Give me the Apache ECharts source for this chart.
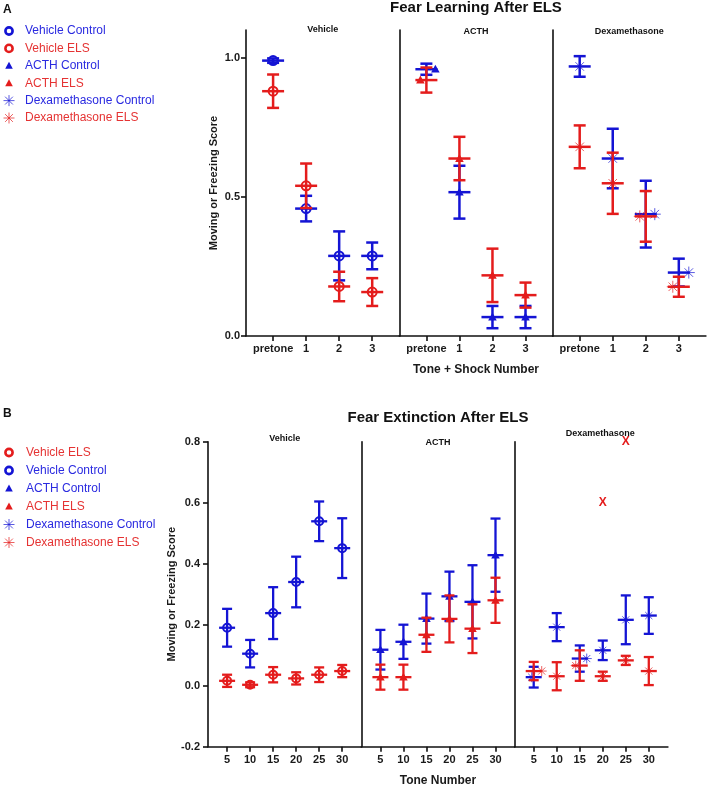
<!DOCTYPE html>
<html><head><meta charset="utf-8">
<script src="https://cdn.jsdelivr.net/npm/echarts@6/dist/echarts.min.js"></script>
<style>html,body{margin:0;padding:0;background:#fff}#c{width:708px;height:786px}</style>
</head><body><div id="c"></div>
<script>
// ---------------- DATA ----------------
const learningCategories = ['pretone', '1', '2', '3'];
const extinctionCategories = ['5', '10', '15', '20', '25', '30'];
const learningTicks = [0, 0.5, 1.0];
const extinctionTicks = [-0.2, 0, 0.2, 0.4, 0.6, 0.8];
const panelNames = ['Vehicle', 'ACTH', 'Dexamethasone'];

// Panel A: Fear Learning (mean, SEM)
const learnVehicleControlMean = [0.990, 0.458, 0.288, 0.288];
const learnVehicleControlErr  = [0.008, 0.046, 0.088, 0.048];
const learnVehicleELSMean     = [0.880, 0.540, 0.178, 0.158];
const learnVehicleELSErr      = [0.060, 0.080, 0.053, 0.050];
const learnACTHControlMean    = [0.959, 0.517, 0.068, 0.068];
const learnACTHControlErr     = [0.020, 0.095, 0.040, 0.040];
const learnACTHELSMean        = [0.920, 0.638, 0.218, 0.147];
const learnACTHELSErr         = [0.045, 0.078, 0.096, 0.045];
const learnDexControlMean     = [0.969, 0.638, 0.438, 0.228];
const learnDexControlErr      = [0.037, 0.107, 0.120, 0.050];
const learnDexELSMean         = [0.680, 0.549, 0.430, 0.177];
const learnDexELSErr          = [0.077, 0.110, 0.091, 0.036];

// Panel B: Fear Extinction (mean, SEM)
const extVehicleControlMean = [0.190, 0.105, 0.238, 0.340, 0.539, 0.451];
const extVehicleControlErr  = [0.062, 0.045, 0.085, 0.083, 0.065, 0.098];
const extVehicleELSMean     = [0.016, 0.003, 0.036, 0.024, 0.036, 0.048];
const extVehicleELSErr      = [0.020, 0.008, 0.025, 0.020, 0.024, 0.020];
const extACTHControlMean    = [0.118, 0.144, 0.220, 0.293, 0.275, 0.428];
const extACTHControlErr     = [0.065, 0.056, 0.082, 0.081, 0.120, 0.120];
const extACTHELSMean        = [0.028, 0.028, 0.167, 0.219, 0.187, 0.280];
const extACTHELSErr         = [0.041, 0.041, 0.056, 0.077, 0.080, 0.074];
const extDexControlMean     = [0.028, 0.192, 0.089, 0.116, 0.216, 0.230];
const extDexControlErr      = [0.034, 0.046, 0.043, 0.032, 0.080, 0.060];
const extDexELSMean         = [0.048, 0.031, 0.066, 0.031, 0.083, 0.048];
const extDexELSErr          = [0.030, 0.046, 0.050, 0.015, 0.015, 0.046];
// Outlier points marked "X" (Dexamethasone ELS)
const extDexOutlierCategory = ['20', '25'];
const extDexOutlierValue    = [0.6, 0.8];

const legendANames = ['Vehicle Control', 'Vehicle ELS', 'ACTH Control', 'ACTH ELS', 'Dexamethasone Control', 'Dexamethasone ELS'];
const legendBNames = ['Vehicle ELS', 'Vehicle Control', 'ACTH Control', 'ACTH ELS', 'Dexamethasone Control', 'Dexamethasone ELS'];

// ---------------- STYLE / LAYOUT ----------------
const BLUE = '#1414d4', RED = '#e41c1c';
const BLUE_T = '#2a2ae0', RED_T = '#e53333';
const FONT = '"Liberation Sans", Arial, sans-serif';
const markerOf = {Vehicle: 'circle', ACTH: 'triangle', Dexamethasone: 'star'};
const colorOf = name => name.indexOf('Control') >= 0 ? BLUE : RED;
const textColorOf = name => name.indexOf('Control') >= 0 ? BLUE_T : RED_T;

function marker(kind, cx, cy, color, s, lw) {
  if (kind === 'circle') return {type: 'circle', shape: {cx: cx, cy: cy, r: s}, style: {fill: 'none', stroke: color, lineWidth: lw || 2}};
  if (kind === 'triangle') return {type: 'polygon', shape: {points: [[cx, cy - s], [cx - s * 0.95, cy + s * 0.75], [cx + s * 0.95, cy + s * 0.75]]}, style: {fill: color}};
  const d = s, q = s * 0.71;
  return {type: 'group', children: [[0, -d, 0, d], [-d, 0, d, 0], [-q, -q, q, q], [-q, q, q, -q]].map(a => ({
    type: 'line', shape: {x1: cx + a[0], y1: cy + a[1], x2: cx + a[2], y2: cy + a[3]},
    style: {stroke: color, lineWidth: 1, opacity: 0.7}
  }))};
}

const rows = [
  { left: 246, top: 30, w: 153.3, h: 306, cats: learningCategories, yMin: 0, yMax: 1.1, ticks: learningTicks, pad: 0.82,
    cap: 6, meanHalf: 11, lw: 2.5, circR: 4.5, triS: 4.5, starS: 6,
    yName: 'Moving or Freezing Score', yNameGap: 27, xName: 'Tone + Shock Number', xNameGap: 28, labelMargin: 7, ylabelMargin: 6,
    title: 'Fear Learning After ELS', titleY: 8,
    subY: [30, 32, 32], subDx: [0, 0, 0],
    groups: [
      {p: 'Vehicle', c: [learnVehicleControlMean, learnVehicleControlErr], e: [learnVehicleELSMean, learnVehicleELSErr], cOff: [0,0,0,0], eOff: [0,0,0,0]},
      {p: 'ACTH', c: [learnACTHControlMean, learnACTHControlErr], e: [learnACTHELSMean, learnACTHELSErr], cOff: [9,0,0,0], eOff: [-6,0,0,0]},
      {p: 'Dexamethasone', c: [learnDexControlMean, learnDexControlErr], e: [learnDexELSMean, learnDexELSErr], cOff: [0,0,9,10], eOff: [0,0,-6,-6]}
    ]},
  { left: 208, top: 441.7, w: 153.3, h: 305, cats: extinctionCategories, yMin: -0.2, yMax: 0.8, ticks: extinctionTicks, pad: 0.83,
    cap: 5, meanHalf: 8, lw: 2.3, circR: 4, triS: 4.5, starS: 5,
    yName: 'Moving or Freezing Score', yNameGap: 30, xName: 'Tone Number', xNameGap: 28, labelMargin: 8, ylabelMargin: 8,
    title: 'Fear Extinction After ELS', titleY: 418,
    subY: [439, 442.7, 433.3], subDx: [0, 0, 9],
    groups: [
      {p: 'Vehicle', c: [extVehicleControlMean, extVehicleControlErr], e: [extVehicleELSMean, extVehicleELSErr], cOff: [0,0,0,0,0,0], eOff: [0,0,0,0,0,0]},
      {p: 'ACTH', c: [extACTHControlMean, extACTHControlErr], e: [extACTHELSMean, extACTHELSErr], cOff: [0,0,0,0,0,0], eOff: [0,0,0,0,0,0]},
      {p: 'Dexamethasone', c: [extDexControlMean, extDexControlErr], e: [extDexELSMean, extDexELSErr], cOff: [-2,0,7,0,0,0], eOff: [8,0,-4,0,0,0]}
    ]}
];

const grid = [], xAxis = [], yAxis = [], series = [], graphic = [];
const axisLineStyle = {color: '#111', width: 1.6};

rows.forEach((row, r) => {
  row.groups.forEach((g, p) => {
    const gi = grid.length;
    const gl = row.left + p * row.w;
    grid.push({left: gl, top: row.top, width: row.w, height: row.h, containLabel: false, outerBoundsMode: 'none'});
    const idxs = row.cats.map((_, i) => i);
    xAxis.push({
      type: 'value', gridIndex: gi, min: -row.pad, max: row.cats.length - 1 + row.pad,
      axisLine: {show: true, onZero: false, lineStyle: axisLineStyle},
      axisTick: {show: true, customValues: idxs, length: 5, lineStyle: axisLineStyle},
      axisLabel: {show: true, customValues: idxs, margin: row.labelMargin, formatter: v => row.cats[Math.round(v)],
        fontFamily: FONT, fontWeight: 'bold', fontSize: 11, color: '#1a1a1a'},
      splitLine: {show: false},
      name: p === 1 ? row.xName : '', nameLocation: 'middle', nameGap: row.xNameGap,
      nameTextStyle: {fontFamily: FONT, fontWeight: 'bold', fontSize: 12, color: '#1a1a1a'}
    });
    yAxis.push({
      type: 'value', gridIndex: gi, min: row.yMin, max: row.yMax,
      axisLine: {show: true, onZero: false, lineStyle: axisLineStyle},
      axisTick: {show: p === 0, customValues: row.ticks, length: 5, lineStyle: axisLineStyle},
      axisLabel: {show: p === 0, customValues: row.ticks, margin: row.ylabelMargin, formatter: v => v.toFixed(1),
        fontFamily: FONT, fontWeight: 'bold', fontSize: 11, color: '#1a1a1a'},
      splitLine: {show: false},
      name: p === 0 ? row.yName : '', nameLocation: 'middle', nameGap: row.yNameGap, nameRotate: 90,
      nameTextStyle: {fontFamily: FONT, fontWeight: 'bold', fontSize: 11, color: '#1a1a1a'}
    });
    graphic.push({type: 'text', x: gl + row.w / 2 + row.subDx[p], y: row.subY[p],
      style: {text: g.p, font: 'bold 9px ' + FONT, fill: '#111', align: 'center', verticalAlign: 'middle'}});

    [['Control', g.c, g.cOff], ['ELS', g.e, g.eOff]].forEach(([kind, arr, offs]) => {
      const name = g.p + ' ' + kind;
      const color = colorOf(name);
      const mk = markerOf[g.p];
      const size = mk === 'circle' ? row.circR : (mk === 'triangle' ? row.triS : row.starS);
      series.push({
        type: 'custom', name: name, xAxisIndex: gi, yAxisIndex: gi, clip: false,
        encode: {x: 0, y: 1},
        data: arr[0].map((m, i) => [i, m, arr[1][i]]),
        renderItem: (params, api) => {
          const x = api.value(0), m = api.value(1), e = api.value(2);
          const c = api.coord([x, m]), t = api.coord([x, m + e]), b = api.coord([x, m - e]);
          const st = {stroke: color, lineWidth: row.lw, fill: null};
          const dx = offs[params.dataIndex] || 0;
          return {type: 'group', children: [
            {type: 'line', shape: {x1: c[0], y1: t[1], x2: c[0], y2: b[1]}, style: st},
            {type: 'line', shape: {x1: c[0] - row.cap, y1: t[1], x2: c[0] + row.cap, y2: t[1]}, style: st},
            {type: 'line', shape: {x1: c[0] - row.cap, y1: b[1], x2: c[0] + row.cap, y2: b[1]}, style: st},
            {type: 'line', shape: {x1: c[0] - row.meanHalf, y1: c[1], x2: c[0] + row.meanHalf, y2: c[1]}, style: st},
            marker(mk, c[0] + dx, c[1], color, size, 2)
          ]};
        }
      });
    });
    if (r === 1 && g.p === 'Dexamethasone') {
      series.push({
        type: 'custom', name: 'Dexamethasone ELS outliers', xAxisIndex: gi, yAxisIndex: gi, clip: false,
        encode: {x: 0, y: 1},
        data: extDexOutlierCategory.map((cat, i) => [row.cats.indexOf(cat), extDexOutlierValue[i]]),
        renderItem: (params, api) => {
          const c = api.coord([api.value(0), api.value(1)]);
          return {type: 'text', x: c[0], y: c[1], style: {text: 'X', font: 'bold 12px ' + FONT, fill: RED, align: 'center', verticalAlign: 'middle'}};
        }
      });
    }
  });
  graphic.push({type: 'text', x: row.left + row.w * 1.5, y: row.titleY,
    style: {text: row.title, font: 'bold 15px ' + FONT, fill: '#111', align: 'center', verticalAlign: 'middle'}});
});

graphic.push({type: 'text', x: 3, y: 10, style: {text: 'A', font: 'bold 12px ' + FONT, fill: '#111', verticalAlign: 'middle'}});
graphic.push({type: 'text', x: 3, y: 414, style: {text: 'B', font: 'bold 12px ' + FONT, fill: '#111', verticalAlign: 'middle'}});
function legend(names, y0, step, tx) {
  names.forEach((n, i) => {
    const y = y0 + i * step;
    const grp = n.split(' ')[0];
    const mk = markerOf[grp];
    const col = colorOf(n);
    graphic.push(marker(mk, 9, y, col, mk === 'circle' ? 3.6 : (mk === 'triangle' ? 4 : 5.5), 2.6));
    graphic.push({type: 'text', x: tx, y: y, style: {text: n, font: '12px ' + FONT, fill: textColorOf(n), verticalAlign: 'middle'}});
  });
}
legend(legendANames, 31, 17.4, 25);
legend(legendBNames, 452.5, 18, 26);

const chart = echarts.init(document.getElementById('c'), null, {renderer: 'canvas'});
chart.setOption({animation: false, backgroundColor: '#fff', grid, xAxis, yAxis, series, graphic});
</script>
</body></html>
